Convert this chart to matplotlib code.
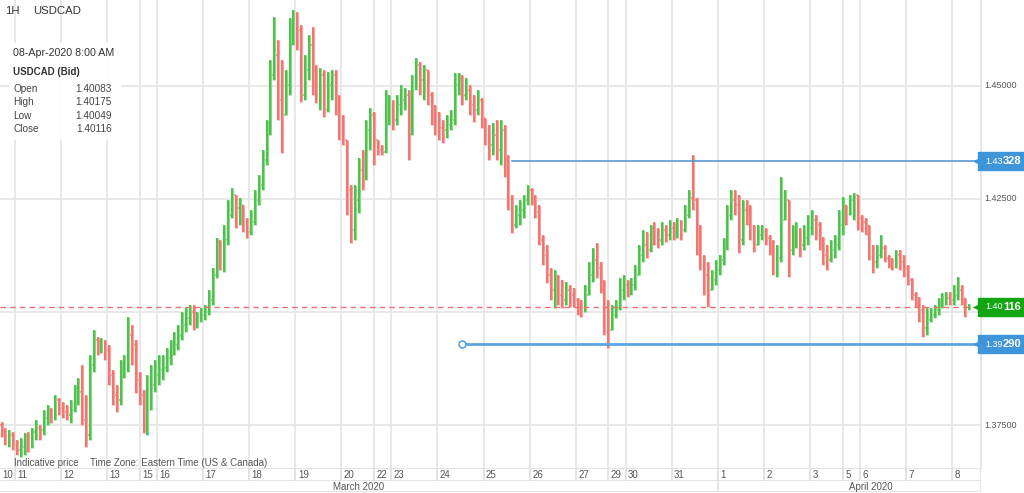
import numpy as np
import matplotlib.pyplot as plt
from matplotlib.collections import LineCollection
from matplotlib.patches import Rectangle

plt.rcParams['font.family'] = ['Liberation Sans', 'DejaVu Sans']

W, H = 1024, 493
PLOT_R, PLOT_B = 981, 468   # right / bottom edge of the price pane (image px)

# trading days shown and how many hours of each are on the chart
day_labels = ["10", "11", "12", "13", "15", "16", "17", "18", "19", "20", "22", "23", "24",
              "25", "26", "27", "29", "30", "31", "1", "2", "3", "5", "6", "7", "8"]
day_hours = [8, 24, 24, 17, 9, 24, 24, 24, 24, 17, 9, 24, 24,
             24, 24, 17, 9, 24, 24, 24, 24, 17, 9, 24, 24, 9]
month_labels = ["March 2020", "April 2020"]
april_start = 19          # index in day_labels where April begins

# USDCAD bars (2 hour steps), open = previous close
first_open = 1.3750
closes = [
    1.3739, 1.3717, 1.3728, 1.3706,
    1.3695, 1.3702, 1.3717, 1.3706, 1.3735, 1.3744, 1.3739, 1.3766, 1.3779, 1.3772, 1.3806, 1.3788,
    1.3779, 1.3772, 1.3783, 1.3810, 1.3823, 1.3761, 1.3728, 1.3883, 1.3938, 1.3920, 1.3927, 1.3916,
    1.3861, 1.3817, 1.3806, 1.3872, 1.3883, 1.3949, 1.3927, 1.3850, 1.3817,
    1.3750, 1.3806, 1.3839, 1.3861,
    1.3872, 1.3876, 1.3898, 1.3916, 1.3927, 1.3949, 1.3971, 1.3987, 1.4000, 1.3978, 1.3987, 1.3993,
    1.4000, 1.4027, 1.4082, 1.4126, 1.4111, 1.4159, 1.4214, 1.4259, 1.4230, 1.4236, 1.4192, 1.4177,
    1.4199, 1.4248, 1.4281, 1.4336, 1.4402, 1.4524, 1.4568, 1.4469, 1.4435, 1.4502, 1.4601, 1.4645,
    1.4623, 1.4480, 1.4535, 1.4590, 1.4502, 1.4491, 1.4524, 1.4446, 1.4502, 1.4524, 1.4469, 1.4413,
    1.4380, 1.4270, 1.4181, 1.4248, 1.4314, 1.4303, 1.4402, 1.4435, 1.4380,
    1.4358, 1.4354, 1.4446, 1.4446,
    1.4424, 1.4457, 1.4469, 1.4480, 1.4402, 1.4513, 1.4546, 1.4513, 1.4535, 1.4480, 1.4446, 1.4424,
    1.4407, 1.4402, 1.4413, 1.4424, 1.4502, 1.4513, 1.4480, 1.4491, 1.4457, 1.4446, 1.4469, 1.4429,
    1.4402, 1.4369, 1.4391, 1.4358, 1.4402, 1.4336, 1.4248, 1.4192, 1.4214, 1.4225, 1.4248, 1.4270,
    1.4248, 1.4221, 1.4159, 1.4126, 1.4082, 1.4049, 1.4060, 1.4038, 1.4027, 1.4049, 1.4038, 1.4027,
    1.4009, 1.4004, 1.4038, 1.4082, 1.4115, 1.4097, 1.4060, 1.3982, 1.3960,
    1.3993, 1.4009, 1.4049, 1.4060,
    1.4049, 1.4060, 1.4082, 1.4126, 1.4148, 1.4137, 1.4177, 1.4170, 1.4159, 1.4181, 1.4170, 1.4186,
    1.4177, 1.4192, 1.4181, 1.4214, 1.4252, 1.4248, 1.4170, 1.4104, 1.4082, 1.4049, 1.4071, 1.4093,
    1.4115, 1.4148, 1.4214, 1.4248, 1.4236, 1.4159, 1.4225, 1.4214, 1.4181, 1.4148, 1.4170, 1.4177,
    1.4164, 1.4148, 1.4104, 1.4119, 1.4203, 1.4248, 1.4137, 1.4159, 1.4181, 1.4148, 1.4164, 1.4186,
    1.4203, 1.4192, 1.4159, 1.4126, 1.4115, 1.4137, 1.4148, 1.4192, 1.4236,
    1.4214, 1.4248, 1.4259, 1.4208,
    1.4199, 1.4186, 1.4137, 1.4111, 1.4126, 1.4141, 1.4119, 1.4111, 1.4104, 1.4126, 1.4111, 1.4097,
    1.4071, 1.4038, 1.4022, 1.4004, 1.3965, 1.3982, 1.3993, 1.4004, 1.4015, 1.4027, 1.4031, 1.4027,
    1.4038, 1.4049, 1.4031, 1.40083, 1.40116,
]
highs = [
    1.3757, 1.3744, 1.3739, 1.3735,
    1.3717, 1.3722, 1.3733, 1.3735, 1.3744, 1.3761, 1.3750, 1.3783, 1.3794, 1.3788, 1.3817, 1.3810,
    1.3801, 1.3794, 1.3806, 1.3839, 1.3854, 1.3883, 1.3817, 1.3905, 1.3960, 1.3945, 1.3943, 1.3938,
    1.3927, 1.3872, 1.3839, 1.3894, 1.3905, 1.3989, 1.3971, 1.3938, 1.3867,
    1.3828, 1.3861, 1.3883, 1.3894,
    1.3905, 1.3905, 1.3920, 1.3938, 1.3956, 1.3971, 1.4000, 1.4009, 1.4015, 1.4015, 1.4000, 1.4009,
    1.4015, 1.4049, 1.4097, 1.4164, 1.4159, 1.4192, 1.4248, 1.4274, 1.4259, 1.4252, 1.4236, 1.4208,
    1.4225, 1.4270, 1.4303, 1.4358, 1.4424, 1.4557, 1.4652, 1.4601, 1.4557, 1.4535, 1.4650, 1.4667,
    1.4663, 1.4634, 1.4568, 1.4612, 1.4630, 1.4546, 1.4539, 1.4535, 1.4530, 1.4535, 1.4535, 1.4480,
    1.4435, 1.4380, 1.4281, 1.4281, 1.4340, 1.4358, 1.4424, 1.4451, 1.4442,
    1.4369, 1.4369, 1.4491, 1.4480,
    1.4469, 1.4480, 1.4502, 1.4495, 1.4491, 1.4524, 1.4561, 1.4553, 1.4546, 1.4535, 1.4486, 1.4457,
    1.4442, 1.4424, 1.4435, 1.4446, 1.4528, 1.4528, 1.4524, 1.4517, 1.4502, 1.4480, 1.4491, 1.4473,
    1.4429, 1.4413, 1.4418, 1.4424, 1.4424, 1.4413, 1.4347, 1.4259, 1.4236, 1.4248, 1.4259, 1.4281,
    1.4274, 1.4259, 1.4236, 1.4170, 1.4148, 1.4097, 1.4093, 1.4082, 1.4071, 1.4066, 1.4060, 1.4053,
    1.4031, 1.4027, 1.4060, 1.4111, 1.4141, 1.4152, 1.4111, 1.4071, 1.4027,
    1.4015, 1.4027, 1.4075, 1.4082,
    1.4071, 1.4075, 1.4104, 1.4148, 1.4181, 1.4177, 1.4192, 1.4199, 1.4186, 1.4199, 1.4192, 1.4203,
    1.4199, 1.4208, 1.4203, 1.4236, 1.4270, 1.4347, 1.4252, 1.4192, 1.4126, 1.4111, 1.4093, 1.4115,
    1.4126, 1.4164, 1.4236, 1.4270, 1.4270, 1.4259, 1.4248, 1.4248, 1.4236, 1.4192, 1.4192, 1.4192,
    1.4186, 1.4170, 1.4159, 1.4148, 1.4298, 1.4270, 1.4241, 1.4192, 1.4199, 1.4186, 1.4192, 1.4214,
    1.4225, 1.4214, 1.4199, 1.4166, 1.4148, 1.4159, 1.4170, 1.4225, 1.4254,
    1.4236, 1.4259, 1.4263, 1.4259,
    1.4214, 1.4208, 1.4192, 1.4148, 1.4148, 1.4170, 1.4148, 1.4126, 1.4119, 1.4137, 1.4137, 1.4126,
    1.4104, 1.4075, 1.4044, 1.4033, 1.4015, 1.4009, 1.4009, 1.4015, 1.4031, 1.4042, 1.4044, 1.4044,
    1.4060, 1.4077, 1.4060, 1.4027, 1.40175,
]
lows = [
    1.3724, 1.3706, 1.3702, 1.3695,
    1.3684, 1.3680, 1.3684, 1.3691, 1.3699, 1.3717, 1.3717, 1.3728, 1.3750, 1.3755, 1.3761, 1.3772,
    1.3766, 1.3761, 1.3755, 1.3779, 1.3794, 1.3750, 1.3702, 1.3717, 1.3867, 1.3905, 1.3909, 1.3894,
    1.3839, 1.3794, 1.3779, 1.3794, 1.3854, 1.3867, 1.3883, 1.3821, 1.3794,
    1.3733, 1.3728, 1.3783, 1.3823,
    1.3839, 1.3850, 1.3867, 1.3883, 1.3905, 1.3916, 1.3938, 1.3956, 1.3971, 1.3960, 1.3965, 1.3978,
    1.3982, 1.3993, 1.4015, 1.4075, 1.4093, 1.4088, 1.4148, 1.4208, 1.4186, 1.4192, 1.4177, 1.4164,
    1.4170, 1.4192, 1.4236, 1.4270, 1.4325, 1.4391, 1.4513, 1.4424, 1.4351, 1.4446, 1.4480, 1.4590,
    1.4579, 1.4464, 1.4469, 1.4513, 1.4480, 1.4462, 1.4446, 1.4431, 1.4442, 1.4469, 1.4435, 1.4380,
    1.4369, 1.4214, 1.4152, 1.4159, 1.4219, 1.4270, 1.4292, 1.4358, 1.4325,
    1.4347, 1.4347, 1.4351, 1.4413,
    1.4402, 1.4413, 1.4435, 1.4446, 1.4336, 1.4391, 1.4491, 1.4480, 1.4469, 1.4457, 1.4413, 1.4391,
    1.4380, 1.4373, 1.4385, 1.4402, 1.4413, 1.4480, 1.4457, 1.4469, 1.4435, 1.4420, 1.4435, 1.4407,
    1.4369, 1.4336, 1.4347, 1.4336, 1.4325, 1.4298, 1.4225, 1.4175, 1.4186, 1.4192, 1.4208, 1.4236,
    1.4236, 1.4208, 1.4148, 1.4104, 1.4064, 1.4027, 1.4009, 1.4015, 1.4009, 1.4015, 1.4011, 1.4011,
    1.3993, 1.3989, 1.4000, 1.4038, 1.4066, 1.4075, 1.4042, 1.3949, 1.3920,
    1.3971, 1.3987, 1.4004, 1.4027,
    1.4033, 1.4038, 1.4049, 1.4082, 1.4111, 1.4119, 1.4133, 1.4148, 1.4141, 1.4148, 1.4155, 1.4159,
    1.4159, 1.4164, 1.4159, 1.4177, 1.4208, 1.4225, 1.4126, 1.4093, 1.4038, 1.4011, 1.4049, 1.4060,
    1.4082, 1.4104, 1.4137, 1.4203, 1.4214, 1.4130, 1.4148, 1.4192, 1.4159, 1.4133, 1.4148, 1.4159,
    1.4148, 1.4126, 1.4082, 1.4077, 1.4111, 1.4214, 1.4077, 1.4126, 1.4141, 1.4122, 1.4137, 1.4148,
    1.4170, 1.4159, 1.4137, 1.4104, 1.4093, 1.4111, 1.4119, 1.4137, 1.4170,
    1.4192, 1.4214, 1.4203, 1.4181,
    1.4177, 1.4170, 1.4115, 1.4086, 1.4097, 1.4119, 1.4111, 1.4097, 1.4093, 1.4097, 1.4093, 1.4077,
    1.4060, 1.4027, 1.4011, 1.3978, 1.3945, 1.3949, 1.3978, 1.3987, 1.3993, 1.4009, 1.4015, 1.4015,
    1.4015, 1.4027, 1.4015, 1.3989, 1.40049,
]

last_price = 1.40116
info_date = "08-Apr-2020 8:00 AM"
info_names = ["Open", "High", "Low", "Close"]
info_values = ["1.40083", "1.40175", "1.40049", "1.40116"]
price_ticks = [1.375, 1.400, 1.425, 1.450]
# drawn support / resistance lines: level and the hour where they start
level_prices = [1.43328, 1.39290]
level_start = [267, 241]

# ---- derived
closes = np.array(closes)
opens = np.concatenate([[first_open], closes[:-1]])
highs = np.maximum.reduce([np.array(highs), opens, closes])
lows = np.minimum.reduce([np.array(lows), opens, closes])
xs = np.arange(len(closes)) * 2 + 1.0          # hour index of each bar
day_start = np.concatenate([[0], np.cumsum(day_hours)])

X0, X1 = 0.19, 511.1
Y0, Y1 = 1.36552, 1.46895

fig = plt.figure(figsize=(W / 100, H / 100), dpi=100)
fig.patch.set_facecolor('white')
ax = fig.add_axes([0, 1 - PLOT_B / H, PLOT_R / W, PLOT_B / H])
ax.set_xlim(X0, X1)
ax.set_ylim(Y0, Y1)
ax.set_xticks([])
ax.set_yticks([])
for s in ['top', 'left', 'bottom']:
    ax.spines[s].set_visible(False)
ax.spines['right'].set_color('#e2e2e2')
ax.spines['right'].set_linewidth(1.2)

grid_c = '#e6e6e6'
for d in day_start[1:-1]:
    ax.axvline(d, color=grid_c, lw=1.3, zorder=0)
for p in price_ticks:
    ax.axhline(p, color=grid_c, lw=1.3, zorder=0)

# OHLC bars: light outer stroke plus a darker core
up_c, dn_c = '#3cbb3c', '#f06a66'
up_l, dn_l = '#8ad88a', '#f6a29e'
is_up = closes >= opens
cols = [up_c if u else dn_c for u in is_up]
cols_l = [up_l if u else dn_l for u in is_up]
body = [[(x, l), (x, h)] for x, l, h in zip(xs, lows, highs)]
otick = [[(x - 0.9, o), (x, o)] for x, o in zip(xs, opens)]
ctick = [[(x, c), (x + 0.9, c)] for x, c in zip(xs, closes)]
ax.add_collection(LineCollection(body, colors=cols_l, linewidths=2.3, zorder=2))
ax.add_collection(LineCollection(otick + ctick, colors=cols_l + cols_l, linewidths=1.3, zorder=2))
ax.add_collection(LineCollection(body, colors=cols, linewidths=1.1, zorder=2))

# current price and drawn levels
ax.axhline(last_price, color='#e8736e', lw=1.0, ls=(0, (4, 3)), zorder=3)
ax.plot([level_start[0], X1], [level_prices[0]] * 2, color='#4a8fcf', lw=1.1, zorder=3)
ax.plot([level_start[1], X1], [level_prices[1]] * 2, color='#5aa5e2', lw=2.0, zorder=3)
ax.plot([level_start[1]], [level_prices[1]], marker='o', ms=5, mfc='white',
        mec='#5aa5e2', mew=1.2, zorder=4)

# right side price scale
yt = ax.get_yaxis_transform()
for p in price_ticks:
    ax.text(984 / PLOT_R, p, f"{p:.5f}", transform=yt, fontsize=6.5, color='#555555',
            va='center', ha='left', clip_on=False, zorder=1)


def price_tag(p, color):
    ax.add_patch(Rectangle((978 / PLOT_R, p - 0.00199), 60 / PLOT_R, 0.00398, transform=yt,
                           color=color, clip_on=False, zorder=5))
    ax.plot([976.5 / PLOT_R], [p], marker='<', ms=4, color=color, transform=yt,
            clip_on=False, zorder=5)
    s = f"{p:.5f}"
    ax.text(985 / PLOT_R, p, s[:4], transform=yt, fontsize=6.5, color='white',
            va='center', ha='left', clip_on=False, zorder=6)
    ax.text(1003 / PLOT_R, p, s[4:], transform=yt, fontsize=8, fontweight='bold',
            color='white', va='center', ha='left', clip_on=False, zorder=6)


price_tag(level_prices[0], '#3f95da')
price_tag(level_prices[1], '#3f95da')
price_tag(last_price, '#14a514')


def ftext(px, py, s, **kw):
    fig.text(px / W, 1 - py / H, s, **kw)


# header and info box
ftext(5, 11, "1H", fontsize=8.2, color='#333333', va='center')
ftext(33, 11, "USDCAD", fontsize=8.2, color='#333333', va='center')
ax.add_patch(Rectangle((9 / PLOT_R, 1 - 140 / PLOT_B), 112 / PLOT_R, 97 / PLOT_B,
                       transform=ax.transAxes, color='white', alpha=0.92, zorder=5, lw=0))
ftext(13, 53, info_date, fontsize=7.7, color='#333333', va='center')
ftext(13, 72, "USDCAD (Bid)", fontsize=7, fontweight='bold', color='#333333', va='center')
for i, (n, v) in enumerate(zip(info_names, info_values)):
    y = 89 + i * 13.4
    ftext(13, y, n, fontsize=7.2, color='#444444', va='center')
    ftext(112, y, v, fontsize=7.2, color='#444444', va='center', ha='right')

ftext(14, 462.5, "Indicative price", fontsize=7, color='#555555', va='center')
ftext(90, 462.5, "Time Zone: Eastern Time (US & Canada)", fontsize=7, color='#555555',
      va='center')

# date rows below the chart
axd = fig.add_axes([0, 1 - 481 / H, PLOT_R / W, 13 / H])
axm = fig.add_axes([0, 1 - 492 / H, PLOT_R / W, 11 / H])
for a in (axd, axm):
    a.set_xlim(X0, X1)
    a.set_ylim(0, 1)
    a.axis('off')
line_c = '#e0e0e0'
axd.axhline(1, color=line_c, lw=1.3)
axd.axhline(0, color=line_c, lw=1.3)
axm.axhline(0, color=line_c, lw=1.3)
for d in day_start[1:-1]:
    axd.axvline(d, color=line_c, lw=1.3)
axd.axvline(X1, color=line_c, lw=1.3)
for i, lab in enumerate(day_labels):
    axd.text(max(day_start[i] + 1.3, 1.2), 0.45, lab, fontsize=7, color='#555555',
             va='center', ha='left')
axm.axvline(day_start[april_start], color=line_c, lw=1.3)
axm.axvline(X1, color=line_c, lw=1.3)

px_apr = (day_start[april_start] - X0) / (X1 - X0) * PLOT_R
ftext(px_apr / 2, 487, month_labels[0], fontsize=7, color='#555555', va='center', ha='center')
ftext((px_apr + W) / 2, 487, month_labels[1], fontsize=7, color='#555555', va='center',
      ha='center')

fig.savefig('out.png', dpi=100)
